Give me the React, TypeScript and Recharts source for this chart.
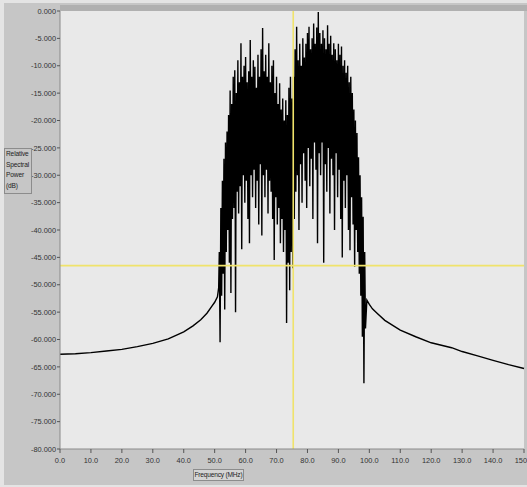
import React from 'react';
import { LineChart, Line, XAxis, YAxis, ReferenceLine } from 'recharts';

// skirt on the low side of the band (MHz, dB)
const leftSkirtFreq = [0, 5, 10, 15, 20, 25, 30, 35, 40, 43, 45.5, 47.5, 49, 50, 50.9, 51.3];
const leftSkirtPower = [-62.7, -62.6, -62.4, -62.1, -61.8, -61.3, -60.7, -59.9, -58.6, -57.5, -56.4, -55.2, -54.0, -53.2, -52.2, -50.5];

// occupied band, read every 0.5 MHz from 51.5 to 98.5: local maxima and the minima just after
const bandStart = 51.5;
const bandStep = 0.5;
const bandPeaks = [
  -44, -36, -31, -27, -24, -22, -19, -14.5, -17, -12,
  -10.8, -15, -9, -13, -5.9, -12, -10, -8.4, -13, -11,
  -5.3, -12, -9, -10.2, -14, -8, -12, -7, -3.1, -11,
  -8, -12, -5.9, -13, -10, -9, -15, -12, -17, -13.2,
  -18, -16, -20, -16.3, -19, -14, -12, -16, -12, -7,
  -2.9, -9, -6, -10, -5, -8.5, -6, -4, -2.9, -7,
  -5, -2.3, -6, -3, -0.2, -4, -6, -3.5, -5, -7,
  -2.6, -6, -4.5, -8, -5.9, -7, -9, -6, -8, -6.5,
  -10, -9, -11.3, -10, -13, -12, -15, -18, -20, -22.3,
  -26.7, -30, -34, -37.6, -44,
];
const bandDips = [
  -60.5, -52, -48, -54.5, -44, -40, -46, -51.5, -38, -36,
  -55, -33, -37, -32, -43.5, -30, -35, -31, -38, -42.4,
  -30, -34, -29, -36, -31, -39, -28, -41, -30, -34,
  -29, -37, -31, -33, -38, -45.5, -34, -39, -36, -42.4,
  -38, -44, -40, -57, -46, -51, -44, -47, -38, -33,
  -30, -40, -28, -35, -26, -31, -36, -25, -32, -27,
  -38, -24, -29, -42.4, -26, -30, -24, -46, -28, -33,
  -25, -37, -27, -30, -40, -26, -34, -29, -38, -45,
  -31, -36, -30, -40, -43.7, -34, -39, -46.7, -40, -44,
  -48, -52, -59.5, -68, -58,
];

// skirt on the high side
const rightSkirtFreq = [99.2, 100, 101, 102.5, 105, 110, 115, 120, 126.6, 130, 135, 140, 145, 150];
const rightSkirtPower = [-52.8, -53.6, -54.4, -55.2, -56.5, -58.3, -59.5, -60.6, -61.5, -62.2, -63.0, -63.8, -64.6, -65.3];

const xTicks = [0, 10, 20, 30, 40, 50, 60, 70, 80, 90, 100, 110, 120, 130, 140, 150];
const yTicks = [0, -5, -10, -15, -20, -25, -30, -35, -40, -45, -50, -55, -60, -65, -70, -75, -80];

const cursorFreq = 75.4;
const cursorPower = -46.5;

const data: { f: number; p: number }[] = [];
leftSkirtFreq.forEach((f, i) => data.push({ f, p: leftSkirtPower[i] }));
bandPeaks.forEach((p, i) => {
  const f = bandStart + i * bandStep;
  data.push({ f, p });
  data.push({ f: f + bandStep / 2, p: bandDips[i] });
});
rightSkirtFreq.forEach((f, i) => data.push({ f, p: rightSkirtPower[i] }));

const tickFont = { fontSize: 7.4, fill: '#333', fontFamily: 'Liberation Sans, Arial, sans-serif' };

const App: React.FC = () => {
  return (
    <div style={{ position: 'fixed', left: 0, top: 0, width: 527, height: 487, background: '#e4e4e4', overflow: 'hidden' }}>
      <div style={{ position: 'absolute', left: 4, top: 3, right: 0, bottom: 2, background: '#c6c6c6' }} />
      <div style={{ position: 'absolute', left: 60, top: 5, width: 467, height: 6, background: '#b0b0b0' }} />
      <div style={{ position: 'absolute', left: 60, top: 11, width: 464, height: 438, background: '#e9e9e9' }} />
      <div style={{ position: 'absolute', left: 0, top: 0 }}>
        <LineChart width={527} height={487} data={data} margin={{ top: 11, right: 3, bottom: 0, left: 0 }}>
          <XAxis
            dataKey="f"
            type="number"
            domain={[0, 150]}
            ticks={xTicks}
            interval={0}
            tickFormatter={(v: number) => v.toFixed(1)}
            tick={tickFont}
            tickSize={4}
            tickMargin={5}
            height={38}
            stroke="#8a8a8a"
            tickLine={{ stroke: '#555' }}
          />
          <YAxis
            type="number"
            domain={[-80, 0]}
            ticks={yTicks}
            interval={0}
            tickFormatter={(v: number) => v.toFixed(3)}
            tick={tickFont}
            tickSize={3}
            tickMargin={1}
            width={60}
            stroke="#8a8a8a"
            tickLine={{ stroke: '#555' }}
            allowDataOverflow
          />
          <Line
            type="linear"
            dataKey="p"
            stroke="#000"
            strokeWidth={1.4}
            strokeLinejoin="miter"
            dot={false}
            isAnimationActive={false}
          />
          <ReferenceLine x={cursorFreq} stroke="#f0e36b" strokeWidth={1.6} />
          <ReferenceLine y={cursorPower} stroke="#f0e36b" strokeWidth={1.6} />
        </LineChart>
      </div>
      <div
        style={{
          position: 'absolute', left: 4, top: 148, width: 28, height: 46,
          border: '1px solid #8c8c8c', fontFamily: 'Liberation Sans, Arial, sans-serif',
          fontSize: 6.6, lineHeight: '10.5px', color: '#222', paddingLeft: 1, boxSizing: 'border-box',
          whiteSpace: 'nowrap', letterSpacing: -0.15,
        }}
      >
        Relative<br />Spectral<br />Power<br />(dB)
      </div>
      <div
        style={{
          position: 'absolute', left: 193, top: 469, width: 51, height: 12,
          border: '1px solid #8c8c8c', background: '#d4d4d4', fontFamily: 'Liberation Sans, Arial, sans-serif',
          fontSize: 6.6, lineHeight: '10px', color: '#222', textAlign: 'center', boxSizing: 'border-box',
          whiteSpace: 'nowrap', letterSpacing: -0.2,
        }}
      >
        Frequency (MHz)
      </div>
    </div>
  );
};

export default App;
